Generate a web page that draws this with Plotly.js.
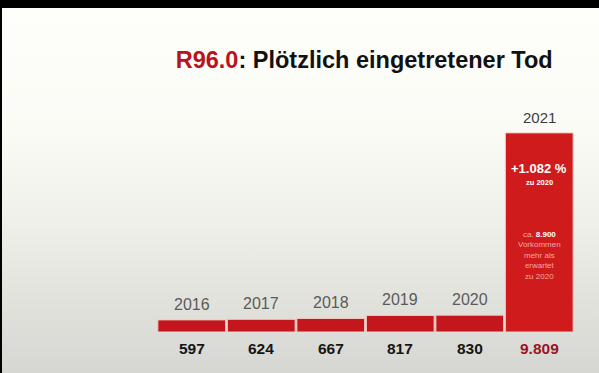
<!DOCTYPE html>
<html>
<head>
<meta charset="utf-8">
<script src="https://cdn.plot.ly/plotly-3.0.1.min.js"></script>
<style>
  html, body { margin:0; padding:0; }
  body { width:599px; height:373px; overflow:hidden; background:#000; }
  #wrap { position:absolute; left:2px; top:8px; width:597px; height:365px;
    background: linear-gradient(to bottom, #fefefa 0%, #fbfbf6 35%, #efefea 60%, #e2e2dd 80%, #d6d6d2 100%); }
  #chart { position:absolute; left:0; top:0; width:599px; height:373px; }
</style>
</head>
<body>
<div id="wrap"></div>
<div id="chart"></div>
<script>
const years = ['2016', '2017', '2018', '2019', '2020', '2021'];
const values = [597, 624, 667, 817, 830, 9809];
const valueLabels = ['597', '624', '667', '817', '830', '9.809'];
const titleCode = 'R96.0';
const titleText = ': Plötzlich eingetretener Tod';
const changeLabel = '+1.082 %';
const changeSub = 'zu 2020';
const noteLines = ['ca. <b style="color:#ffffff">8.900</b>', 'Vorkommen', 'mehr als', 'erwartet', 'zu 2020'];

const font = 'Liberation Sans, Arial, Helvetica, sans-serif';
const lastIdx = values.length - 1;

const barColors = values.map((v, i) => i === lastIdx ? '#cf1b1c' : '#c3161d');

const annotations = [];
years.forEach((y, i) => {
  annotations.push({
    x: i, y: values[i], xref: 'x', yref: 'y', yanchor: 'bottom', yshift: 5,
    text: y, showarrow: false,
    font: {family: font, size: i === lastIdx ? 15 : 16, color: i === lastIdx ? '#3c3c3c' : '#5a5a5a'}
  });
  annotations.push({
    x: i, y: 0, xref: 'x', yref: 'y', yanchor: 'top', yshift: -6,
    text: '<b>' + valueLabels[i] + '</b>', showarrow: false,
    font: {family: font, size: 15.5, color: i === lastIdx ? '#9a1428' : '#151515'}
  });
});
annotations.push({
  x: lastIdx, y: values[lastIdx], xref: 'x', yref: 'y', yanchor: 'top', yshift: -26,
  text: '<b>' + changeLabel + '</b>', showarrow: false,
  font: {family: font, size: 13, color: '#ffffff'}
});
annotations.push({
  x: lastIdx, y: values[lastIdx], xref: 'x', yref: 'y', yanchor: 'top', yshift: -43,
  text: '<b>' + changeSub + '</b>', showarrow: false,
  font: {family: font, size: 7.5, color: '#ffffff'}
});
annotations.push({
  x: lastIdx, y: values[lastIdx], xref: 'x', yref: 'y', yanchor: 'top', yshift: -95,
  text: noteLines.join('<br>'), showarrow: false,
  font: {family: font, size: 8, color: '#f6a8a4'}
});

const layout = {
  width: 599, height: 373,
  margin: {l: 157, r: 25, t: 129, b: 41, pad: 0},
  paper_bgcolor: 'rgba(0,0,0,0)',
  plot_bgcolor: 'rgba(0,0,0,0)',
  showlegend: false,
  bargap: 0.025,
  title: {
    text: '<span style="color:#b8141c">' + titleCode + '</span>' + titleText,
    font: {family: font, size: 23.5, color: '#111111', weight: 700},
    x: 0.608, xanchor: 'center', y: 0.84, yanchor: 'middle'
  },
  xaxis: {type: 'category', range: [-0.5, 5.5], showticklabels: false, showgrid: false, zeroline: false, showline: false, fixedrange: true},
  yaxis: {range: [0, 10000], showticklabels: false, showgrid: false, zeroline: false, showline: false, fixedrange: true},
  annotations: annotations
};

Plotly.newPlot('chart', [{
  type: 'bar', x: years, y: values,
  marker: {color: barColors, line: {color: '#f3c9c0', width: 1}},
  hoverinfo: 'none'
}], layout, {staticPlot: true, displayModeBar: false});
</script>
</body>
</html>
